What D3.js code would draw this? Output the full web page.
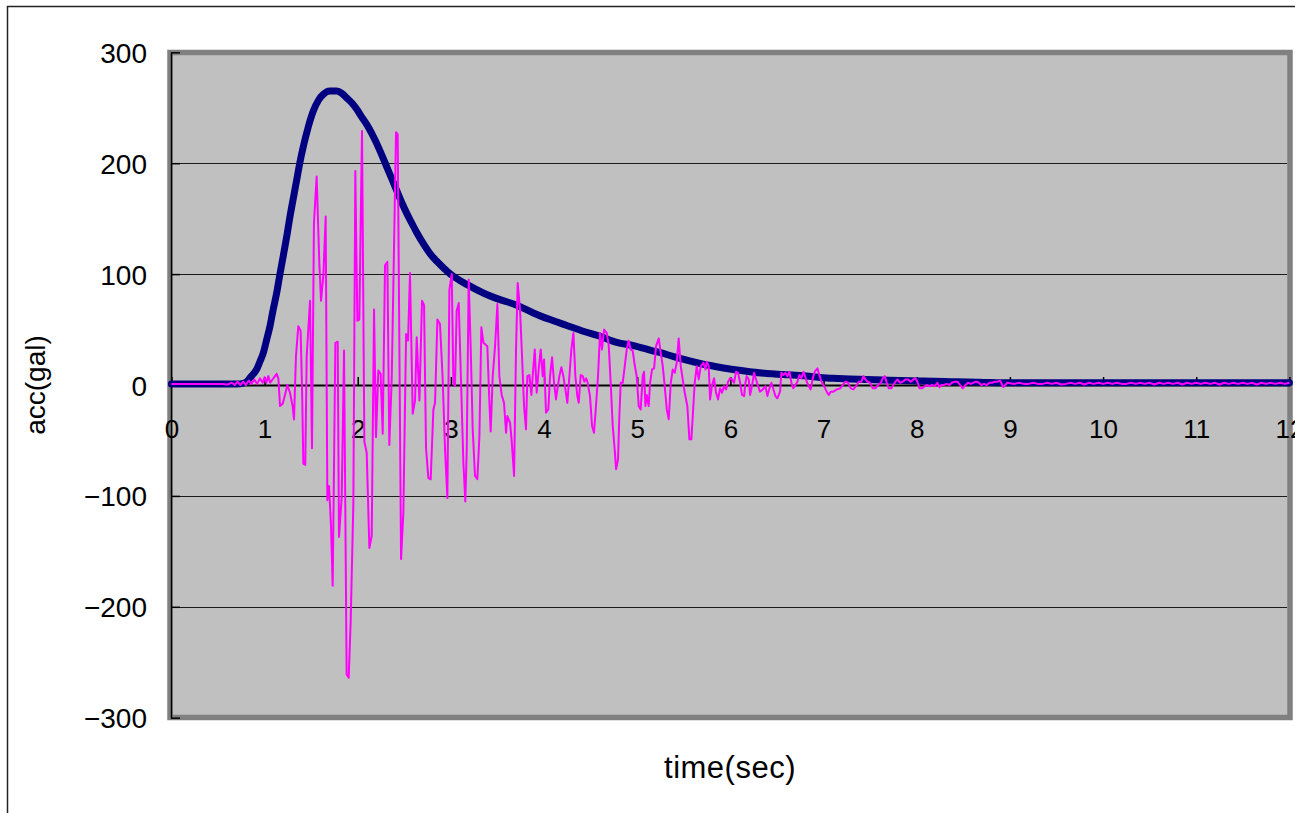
<!DOCTYPE html>
<html>
<head>
<meta charset="utf-8">
<script src="https://cdn.jsdelivr.net/npm/d3@7"></script>
<style>
  html, body { margin: 0; padding: 0; background: #fff; }
  svg { display: block; }
  text { font-family: "Liberation Sans", Arial, sans-serif; fill: #000; }
</style>
</head>
<body>
<svg id="chart" width="1295" height="813"></svg>
<script>
// ---------- data ----------
const xTickValues = [0, 1, 2, 3, 4, 5, 6, 7, 8, 9, 10, 11, 12];
const yTickValues = [-300, -200, -100, 0, 100, 200, 300];
const xTitle = "time(sec)";
const yTitle = "acc(gal)";

// envelope series (navy)
const envTime = [0, 0.3, 0.5, 0.7, 0.77, 0.81, 0.844, 0.88, 0.915, 0.95, 0.987, 1.02, 1.058, 1.09, 1.13, 1.165, 1.2, 1.24, 1.273, 1.31, 1.345, 1.38, 1.416, 1.47, 1.523, 1.58, 1.63, 1.7, 1.774, 1.83, 1.88, 1.94, 1.99, 2.04, 2.096, 2.15, 2.2, 2.255, 2.31, 2.365, 2.42, 2.47, 2.525, 2.58, 2.633, 2.704, 2.776, 2.883, 3.026, 3.17, 3.348, 3.527, 3.707, 3.885, 4.064, 4.243, 4.42, 4.6, 4.78, 4.96, 5.137, 5.317, 5.5, 5.674, 5.85, 6.03, 6.21, 6.39, 6.57, 6.748, 6.92, 7.1, 7.28, 7.46, 7.64, 7.82, 8.0, 8.18, 8.36, 8.54, 8.72, 8.9, 9.2, 9.5, 10, 10.5, 11, 11.5, 12];
const envValue = [1, 1, 1, 1, 1.5, 3, 6.5, 10, 14, 21, 29, 40, 53, 67, 83, 100, 116, 135, 152, 169, 185, 201, 215, 233, 247, 257, 262, 265, 265, 263, 259, 254, 248.6, 242, 235, 227, 218.5, 208, 197, 186, 175, 165, 155, 146, 137.5, 127.5, 118.5, 108.7, 98, 90.7, 83, 77, 72, 65, 59, 53.7, 48.5, 44, 38.5, 35.5, 31.5, 27.5, 23, 19.4, 16.5, 14, 12, 10.4, 9.5, 8.6, 7.2, 6, 5.5, 5, 4.5, 4, 3.7, 3.4, 3, 2.6, 2.3, 2, 2, 2, 2, 2, 2, 2, 2];

// acceleration series (magenta)
const accTime = [0, 0.1, 0.2, 0.3, 0.4, 0.5, 0.55, 0.6, 0.65, 0.68, 0.71, 0.74, 0.77, 0.8, 0.83, 0.86, 0.89, 0.92, 0.95, 0.98, 1.0, 1.02, 1.04, 1.06, 1.094, 1.13, 1.148, 1.166, 1.194, 1.219, 1.244, 1.273, 1.301, 1.316, 1.337, 1.362, 1.387, 1.405, 1.416, 1.437, 1.452, 1.488, 1.509, 1.53, 1.559, 1.588, 1.606, 1.631, 1.656, 1.674, 1.692, 1.713, 1.731, 1.76, 1.785, 1.799, 1.828, 1.853, 1.881, 1.903, 1.924, 1.953, 1.974, 1.996, 2.017, 2.046, 2.071, 2.096, 2.125, 2.15, 2.175, 2.196, 2.221, 2.246, 2.268, 2.293, 2.318, 2.339, 2.365, 2.411, 2.429, 2.465, 2.49, 2.519, 2.54, 2.561, 2.59, 2.615, 2.633, 2.662, 2.69, 2.712, 2.733, 2.758, 2.783, 2.812, 2.83, 2.855, 2.883, 2.912, 2.937, 2.962, 2.984, 3.009, 3.027, 3.044, 3.062, 3.084, 3.109, 3.134, 3.155, 3.17, 3.191, 3.213, 3.234, 3.259, 3.284, 3.306, 3.327, 3.349, 3.391, 3.413, 3.427, 3.449, 3.474, 3.499, 3.52, 3.545, 3.57, 3.592, 3.606, 3.635, 3.653, 3.678, 3.699, 3.717, 3.742, 3.764, 3.785, 3.806, 3.821, 3.842, 3.864, 3.878, 3.9, 3.921, 3.942, 3.964, 3.985, 4.0, 4.021, 4.046, 4.064, 4.086, 4.107, 4.128, 4.143, 4.164, 4.186, 4.207, 4.229, 4.25, 4.272, 4.293, 4.315, 4.336, 4.357, 4.372, 4.393, 4.415, 4.433, 4.451, 4.465, 4.493, 4.515, 4.536, 4.558, 4.579, 4.601, 4.622, 4.644, 4.672, 4.694, 4.715, 4.737, 4.758, 4.773, 4.794, 4.808, 4.823, 4.844, 4.866, 4.887, 4.908, 4.93, 4.951, 4.973, 4.994, 5.016, 5.037, 5.059, 5.073, 5.088, 5.102, 5.123, 5.138, 5.159, 5.181, 5.202, 5.231, 5.252, 5.274, 5.295, 5.317, 5.338, 5.36, 5.381, 5.402, 5.424, 5.445, 5.467, 5.488, 5.51, 5.538, 5.56, 5.581, 5.596, 5.617, 5.639, 5.66, 5.682, 5.71, 5.732, 5.746, 5.767, 5.782, 5.803, 5.825, 5.846, 5.868, 5.889, 5.91, 5.932, 5.954, 5.975, 5.996, 6.018, 6.039, 6.061, 6.082, 6.104, 6.125, 6.147, 6.161, 6.175, 6.197, 6.211, 6.232, 6.254, 6.275, 6.297, 6.318, 6.347, 6.376, 6.397, 6.419, 6.44, 6.462, 6.483, 6.504, 6.533, 6.547, 6.569, 6.59, 6.612, 6.633, 6.655, 6.676, 6.698, 6.719, 6.741, 6.762, 6.784, 6.798, 6.819, 6.841, 6.862, 6.884, 6.905, 6.934, 6.955, 6.977, 7.005, 7.034, 7.056, 7.077, 7.106, 7.141, 7.177, 7.206, 7.234, 7.263, 7.292, 7.32, 7.349, 7.378, 7.406, 7.428, 7.449, 7.47, 7.499, 7.528, 7.556, 7.585, 7.614, 7.635, 7.657, 7.678, 7.7, 7.728, 7.75, 7.771, 7.793, 7.821, 7.85, 7.879, 7.907, 7.936, 7.964, 7.986, 8.007, 8.029, 8.057, 8.086, 8.107, 8.136, 8.165, 8.193, 8.222, 8.243, 8.265, 8.293, 8.322, 8.351, 8.379, 8.408, 8.437, 8.465, 8.494, 8.523, 8.551, 8.58, 8.608, 8.637, 8.666, 8.694, 8.723, 8.752, 8.78, 8.809, 8.838, 8.866, 8.895, 8.93, 8.97, 9.05, 9.1, 9.15, 9.2, 9.25, 9.3, 9.35, 9.4, 9.45, 9.5, 9.55, 9.6, 9.65, 9.7, 9.75, 9.8, 9.85, 9.9, 9.95, 10.0, 10.05, 10.1, 10.15, 10.2, 10.25, 10.3, 10.35, 10.4, 10.45, 10.5, 10.55, 10.6, 10.65, 10.7, 10.75, 10.8, 10.85, 10.9, 10.95, 11.0, 11.05, 11.1, 11.15, 11.2, 11.25, 11.3, 11.35, 11.4, 11.45, 11.5, 11.55, 11.6, 11.65, 11.7, 11.75, 11.8, 11.85, 11.9, 11.95, 12.0];
const accValue = [1, 1, 1, 1, 1, 1, 1, 0.5, 2, 0, 3, 0, 3, 0, 4, 1, 5, 1, 6, 2, 7, 2, 8, 2, 6, 10, 6, -19, -17, -9, 0, -7, -19, -31, 26, 53, 49, -14, -71, -72, 26, 76, -57, 146, 188, 109, 76, 99, 152, -104, -91, -127, -181, 38, 39, -137, -101, 31, -261, -264, -214, -107, 193, 58, 59, 229, -51, -61, -147, -136, 68, -47, 13, 10, -44, 108, 111, -54, 6, 228, 226, -157, -114, 46, 40, 101, -26, -14, 43, -14, 76, 72, -57, -84, -85, -22, -16, 59, 55, 5, -58, -102, 86, 100, 2, -1, 67, 74, 2, -70, -105, -58, 95, 32, -40, -82, -85, -46, 52, 38, 35, -15, -42, 8, 35, 73, 8, -9, -16, -43, -28, -34, -51, -82, 32, 92, 68, 25, -19, -40, 8, 9, -9, 8, 32, -7, 14, 32, 8, 23, -25, -22, 8, 25, 2, -13, -4, 8, 16, 8, -4, -16, 8, 32, 47, 8, -10, -16, 9, 8, 3, 6, 3, -10, -37, -43, -18, 8, 47, 32, 50, 47, 36, 2, -37, -58, -76, -67, -28, 2, 2, 17, 32, 40, 32, 31, 18, 8, -19, -22, 8, 12, -19, -9, -19, 2, 14, 15, 35, 42, 29, 17, -1, -22, -31, 2, 14, 11, 20, 42, 17, 5, -7, -19, -49, -49, -28, 2, 17, 5, 17, 20, 14, 21, 17, -13, 0, 6, -7, -13, -3, -7, -1, -4, 3, 6, 5, 2, 12, 11, 2, -9, -10, 2, 8, 5, -9, -1, 11, 5, -1, -6, -4, -1, -10, -3, 2, -4, -10, -12, -6, 11, 9, 11, 8, 12, 2, -3, 0, 3, 9, 6, 12, 9, 3, -1, -4, 6, 12, 15, 9, 3, -1, -6, -9, -6, -6, -4, -3, 0, 3, 2, -3, -4, -1, 3, 3, 8, 5, 3, 2, -3, -3, 0, 2, 6, 8, 2, -3, -3, 0, 3, 5, 2, 3, 5, 5, 3, 5, 6, 3, -3, -3, -1, 0, -1, 0, -1, 2, -2, 0, 0, 1, 0, 2, 3, 3, 0, -3, 0, 2, 1, 2, 3, 2, 0, 1, 0, 2, 2, 3, 3, 4, -2, 2, 1, 2, 1, 1, 2, 1, 1, 2, 1, 2, 0.5, 1, 2, 1, 2, 0.5, 2, 1, 2, 1, 2, 1, 2, 1, 1, 2, 1, 2, 1, 2, 0.5, 2, 1, 2, 1, 2, 0.5, 2, 1, 2, 1, 2, 1, 2, 0.5, 2, 1, 2, 1, 2, 1, 2, 0.5, 2, 1, 2, 1, 2, 1, 2, 1, 2, 1];

// ---------- layout ----------
const svg = d3.select("#chart");

const x = d3.scaleLinear().domain([0, 12]).range([171.4, 1289.4]);
const y = d3.scaleLinear().domain([-300, 300]).range([717.7, 52.3]);

// outer chart border
svg.append("rect")
  .attr("x", 7.5).attr("y", 6.5)
  .attr("width", 1400).attr("height", 1000)
  .attr("fill", "#fff").attr("stroke", "#222").attr("stroke-width", 1.5);

// plot area
svg.append("rect")
  .attr("x", 170).attr("y", 52.5)
  .attr("width", 1120).attr("height", 665)
  .attr("fill", "#c0c0c0")
  .attr("stroke", "#808080").attr("stroke-width", 5.5);

// gridlines
svg.append("g").selectAll("line")
  .data(yTickValues.filter(v => v !== 0 && Math.abs(v) !== 300))
  .join("line")
  .attr("x1", 172).attr("x2", 1287)
  .attr("y1", d => Math.round(y(d)) + 0.5).attr("y2", d => Math.round(y(d)) + 0.5)
  .attr("stroke", "#1a1a1a").attr("stroke-width", 1);

// y axis
const yAxis = d3.axisLeft(y)
  .tickValues(yTickValues)
  .tickSizeInner(-9).tickSizeOuter(0).tickPadding(24)
  .tickFormat(d => d < 0 ? "\u2212" + Math.abs(d) : String(d));
const gy = svg.append("g").attr("transform", "translate(171,0)").call(yAxis);
gy.select(".domain").attr("stroke", "#000").attr("stroke-width", 1.5);
gy.selectAll(".tick line").attr("stroke", "#000").attr("stroke-width", 1.5);
gy.selectAll(".tick text")
  .attr("font-size", 28)
  .attr("font-family", "'Liberation Sans', Arial, sans-serif")
  .attr("dy", "0.36em");

// x axis at zero
const xAxis = d3.axisBottom(x)
  .tickValues(xTickValues)
  .tickSizeInner(-8).tickSizeOuter(0).tickPadding(35)
  .tickFormat(d3.format("d"));
const gx = svg.append("g").attr("transform", `translate(0,${y(0)})`).call(xAxis);
gx.select(".domain").attr("stroke", "#000").attr("stroke-width", 2);
gx.selectAll(".tick line").attr("stroke", "#000").attr("stroke-width", 1.5);
gx.selectAll(".tick text")
  .attr("font-size", 26)
  .attr("font-family", "'Liberation Sans', Arial, sans-serif");

// series
const envData = envTime.map((t, i) => [t, envValue[i]]);
const accData = accTime.map((t, i) => [t, accValue[i]]);

svg.append("path")
  .datum(envData)
  .attr("d", d3.line().x(d => x(d[0])).y(d => y(d[1])).curve(d3.curveMonotoneX))
  .attr("fill", "none")
  .attr("stroke", "#000080")
  .attr("stroke-width", 7)
  .attr("stroke-linejoin", "round")
  .attr("stroke-linecap", "round");

svg.append("path")
  .datum(accData)
  .attr("d", d3.line().x(d => x(d[0])).y(d => y(d[1])))
  .attr("fill", "none")
  .attr("stroke", "#ff00ff")
  .attr("stroke-width", 2)
  .attr("stroke-linejoin", "round");

// axis titles
svg.append("text")
  .attr("transform", `translate(45,${y(0)}) rotate(-90)`)
  .attr("text-anchor", "middle")
  .attr("font-size", 28)
  .text(yTitle);

svg.append("text")
  .attr("x", 730).attr("y", 778)
  .attr("text-anchor", "middle")
  .attr("font-size", 31)
  .attr("letter-spacing", 0.5)
  .text(xTitle);
</script>
</body>
</html>
